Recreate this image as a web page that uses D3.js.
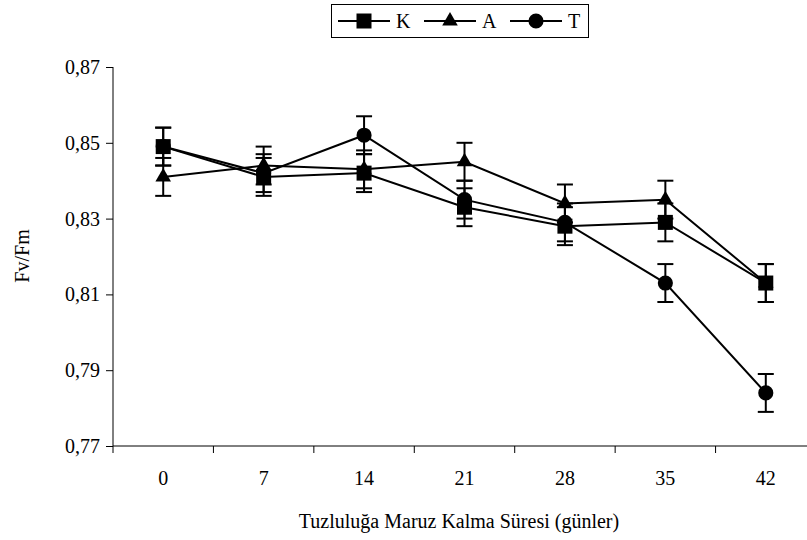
<!DOCTYPE html>
<html>
<head>
<meta charset="utf-8">
<script src="https://cdn.jsdelivr.net/npm/d3@7/dist/d3.min.js"></script>
<style>
  body { margin: 0; background: #fff; }
  text { font-family: "Liberation Serif", "Times New Roman", serif; fill: #000; }
</style>
</head>
<body>
<div class="chart"></div>
<script>
// data
var days = ["0", "7", "14", "21", "28", "35", "42"];
var kValues = [0.849, 0.841, 0.842, 0.833, 0.828, 0.829, 0.813];
var aValues = [0.841, 0.844, 0.843, 0.845, 0.834, 0.835, 0.813];
var tValues = [0.849, 0.842, 0.852, 0.835, 0.829, 0.813, 0.784];
var kErrors = [0.005, 0.005, 0.005, 0.005, 0.005, 0.005, 0.005];
var aErrors = [0.005, 0.005, 0.005, 0.005, 0.005, 0.005, 0.005];
var tErrors = [0.005, 0.005, 0.005, 0.005, 0.005, 0.005, 0.005];
var yTicks = [0.77, 0.79, 0.81, 0.83, 0.85, 0.87];

var width = 807;
var height = 540;

// T drawn first so the K square covers it at day 0
var series = [
  { name: "K", values: kValues, errors: kErrors, symbol: d3.symbolSquare, size: 225, order: 2 },
  { name: "A", values: aValues, errors: aErrors, symbol: d3.symbolTriangle, size: 105, order: 1 },
  { name: "T", values: tValues, errors: tErrors, symbol: d3.symbolCircle, size: 180, order: 0 }
];

var svg = d3.select('.chart').append('svg')
    .attr('width', width)
    .attr('height', height);

var x = d3.scaleBand().domain(days).range([113, 816]).padding(0);
var y = d3.scaleLinear().domain([0.77, 0.87]).range([446, 67]);

var fmt = function (d) { return d3.format(".2f")(d).replace(".", ","); };

// y axis
var yAxis = svg.append('g')
    .attr('transform', 'translate(113,0)')
    .call(d3.axisLeft(y).tickValues(yTicks).tickSize(7).tickPadding(6).tickFormat(fmt));
yAxis.selectAll('text').style('font-size', '20px');
yAxis.select('.domain').remove();
svg.append('line')
    .attr('x1', 113).attr('x2', 113)
    .attr('y1', 67).attr('y2', 446)
    .attr('stroke', '#000');

// x axis, ticks between categories
var xAxis = svg.append('g')
    .attr('transform', 'translate(0,446)');
xAxis.append('line')
    .attr('x1', 113).attr('x2', 816)
    .attr('stroke', '#000');
xAxis.selectAll('.tick')
    .data(days)
    .enter().append('line')
    .attr('class', 'tick')
    .attr('x1', function (d) { return x(d); })
    .attr('x2', function (d) { return x(d); })
    .attr('y1', 0).attr('y2', 7)
    .attr('stroke', '#000');
xAxis.selectAll('.lbl')
    .data(days)
    .enter().append('text')
    .attr('class', 'lbl')
    .attr('x', function (d) { return x(d) + x.bandwidth() / 2; })
    .attr('y', 39)
    .attr('text-anchor', 'middle')
    .style('font-size', '20px')
    .text(function (d) { return d; });

// axis titles
svg.append('text')
    .attr('x', 459).attr('y', 528)
    .attr('text-anchor', 'middle')
    .style('font-size', '20px')
    .text('Tuzluluğa Maruz Kalma Süresi (günler)');

svg.append('text')
    .attr('transform', 'translate(29,256) rotate(-90)')
    .attr('text-anchor', 'middle')
    .style('font-size', '20px')
    .text('Fv/Fm');

var cx = function (i) { return x(days[i]) + x.bandwidth() / 2; };

var line = d3.line()
    .x(function (d, i) { return cx(i); })
    .y(function (d) { return y(d); });

series.slice().sort(function (a, b) { return a.order - b.order; }).forEach(function (s) {
  var g = svg.append('g');

  // error bars
  s.values.forEach(function (v, i) {
    var e = s.errors[i];
    g.append('line')
      .attr('x1', cx(i)).attr('x2', cx(i))
      .attr('y1', y(v - e)).attr('y2', y(v + e))
      .attr('stroke', '#000').attr('stroke-width', 2);
    [v - e, v + e].forEach(function (w) {
      g.append('line')
        .attr('x1', cx(i) - 8).attr('x2', cx(i) + 8)
        .attr('y1', y(w)).attr('y2', y(w))
        .attr('stroke', '#000').attr('stroke-width', 2);
    });
  });

  g.append('path')
    .datum(s.values)
    .attr('d', line)
    .attr('fill', 'none')
    .attr('stroke', '#000')
    .attr('stroke-width', 2);

  g.selectAll('.pt')
    .data(s.values)
    .enter().append('path')
    .attr('class', 'pt')
    .attr('transform', function (d, i) { return 'translate(' + cx(i) + ',' + y(d) + ')'; })
    .attr('d', d3.symbol().type(s.symbol).size(s.size))
    .attr('fill', '#000');
});

// legend
var legend = svg.append('g');
legend.append('rect')
    .attr('x', 331.5).attr('y', 4.5)
    .attr('width', 257).attr('height', 33)
    .attr('fill', '#fff')
    .attr('stroke', '#000');

series.forEach(function (s, i) {
  var lx = 338 + i * 86;
  legend.append('line')
    .attr('x1', lx).attr('x2', lx + 52)
    .attr('y1', 21).attr('y2', 21)
    .attr('stroke', '#000').attr('stroke-width', 2);
  legend.append('path')
    .attr('transform', 'translate(' + (lx + 26) + ',21)')
    .attr('d', d3.symbol().type(s.symbol).size(s.size))
    .attr('fill', '#000');
  legend.append('text')
    .attr('x', lx + 58).attr('y', 28)
    .style('font-size', '20px')
    .text(s.name);
});
</script>
</body>
</html>
